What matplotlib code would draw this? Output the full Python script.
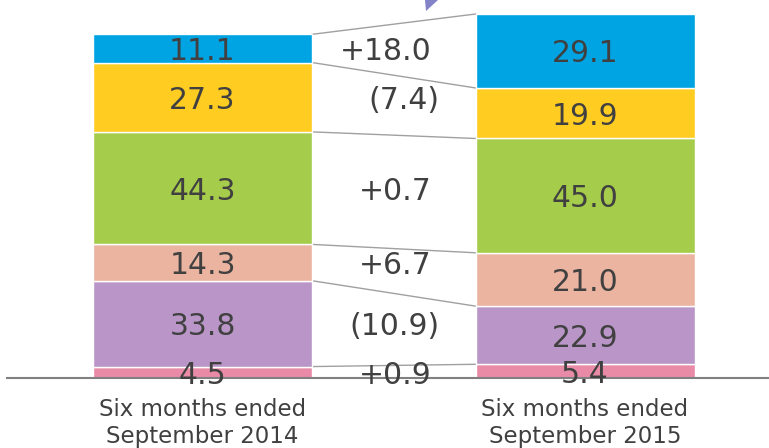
import numpy as np
from matplotlib import pyplot as plt
from matplotlib.patches import Polygon

# data (bottom segment first)
periods = ["Six months ended\nSeptember 2014", "Six months ended\nSeptember 2015"]
values_2014 = [4.5, 33.8, 14.3, 44.3, 27.3, 11.1]
values_2015 = [5.4, 22.9, 21.0, 45.0, 19.9, 29.1]
changes = ["+0.9", "(10.9)", "+6.7", "+0.7", "(7.4)", "+18.0"]
colors = ["#E98AA6", "#B996C7", "#EBB4A1", "#A6CC4B", "#FFCC22", "#00A4E2"]

# layout (pixels of a 769x448 canvas)
W, H = 769, 448
base_px = 378
px_per_unit = 2.54
bar_x = [202.5, 585.0]
bar_w = 219
text_col = "#404040"

fig = plt.figure(figsize=(W / 100, H / 100), dpi=100)
ax = fig.add_axes([0, 0, 1, 1])
ax.set_xlim(0, W)
ax.set_ylim((base_px - H) / px_per_unit, base_px / px_per_unit)
ax.axis("off")

stacks = [np.array(values_2014), np.array(values_2015)]
bottoms = [np.concatenate([[0], np.cumsum(s)[:-1]]) for s in stacks]

for i in range(2):
    ax.bar(bar_x[i], stacks[i], bottom=bottoms[i], width=bar_w, color=colors,
           edgecolor="white", linewidth=1, zorder=2)
    for v, b in zip(stacks[i], bottoms[i]):
        ax.text(bar_x[i], b + v / 2, "%.1f" % v, ha="center", va="center_baseline",
                fontsize=21.5, color=text_col, zorder=5)
    ax.text(bar_x[i], (base_px - 423) / px_per_unit, periods[i], ha="center",
            va="center", fontsize=16.5, color=text_col, linespacing=1.25)

# connector lines between bars
left_edge = bar_x[0] + bar_w / 2
right_edge = bar_x[1] - bar_w / 2
tops_l = np.cumsum(stacks[0])
tops_r = np.cumsum(stacks[1])
for yl, yr in zip(tops_l, tops_r):
    ax.plot([left_edge, right_edge], [yl, yr], color="#A0A0A0", linewidth=1, zorder=1)

# change labels
for c, v, b in zip(changes, stacks[0], bottoms[0]):
    x = 439 if c.startswith("(") else 432
    ax.text(x, b + v / 2, c, ha="right", va="center_baseline", fontsize=21.5,
            color=text_col, zorder=5)

# baseline
ax.plot([7, W], [0, 0], color="#808080", linewidth=1.5, zorder=3)

# tip of an arrow cut off at the top
fig.patches.append(Polygon([(425 / W, 1), (438 / W, 1), (426 / W, 1 - 11 / H)],
                           closed=True, transform=fig.transFigure,
                           facecolor="#8282C8", edgecolor="none"))

plt.savefig("out.png", dpi=100)
